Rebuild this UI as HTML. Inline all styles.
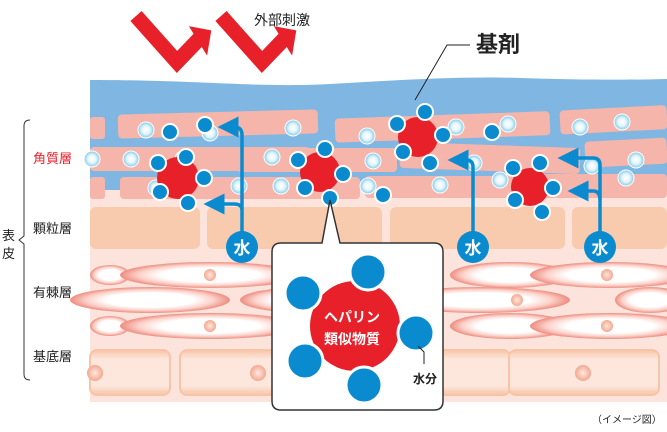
<!DOCTYPE html>
<html><head><meta charset="utf-8"><style>
html,body{margin:0;padding:0;background:#fff}
svg{display:block}
text{font-family:"Liberation Sans","Noto Sans CJK JP",sans-serif}
</style></head><body>
<svg width="667" height="432" viewBox="0 0 667 432" xmlns="http://www.w3.org/2000/svg">
<defs>
<radialGradient id="lb" cx="50%" cy="50%" r="50%"><stop offset="0" stop-color="#fff"/><stop offset="0.5" stop-color="#e6f6fc"/><stop offset="1" stop-color="#7fcbea"/></radialGradient>
<radialGradient id="el" cx="50%" cy="50%" r="50%"><stop offset="0.55" stop-color="#fff"/><stop offset="0.8" stop-color="#fbd0c8"/><stop offset="1" stop-color="#ee8c80"/></radialGradient>
<radialGradient id="nu" cx="50%" cy="50%" r="50%"><stop offset="0" stop-color="#fde8e0"/><stop offset="1" stop-color="#f4a890"/></radialGradient>
<linearGradient id="bc" x1="0" y1="0" x2="0" y2="1"><stop offset="0" stop-color="#f7c4a6"/><stop offset="0.2" stop-color="#fde6dc"/><stop offset="0.8" stop-color="#fde6dc"/><stop offset="1" stop-color="#f7c4a6"/></linearGradient>
<marker id="ah" markerWidth="6" markerHeight="6" refX="3" refY="3" orient="auto" markerUnits="strokeWidth"><path d="M0,0 L6,3 L0,6z" fill="#0a8bd0"/></marker>
</defs>
<rect x="90" y="185" width="577" height="217" fill="#fce4dc"/>
<path d="M90,80 C200,80 260,88 330,84 C400,80 460,76 520,78 C580,80 630,80 667,79 L667,190 L90,190 Z" fill="#80b6e2"/>
<g fill="#f5b5ab">
<rect x="90" y="117" width="15" height="22" rx="3"/>
<rect x="118" y="112" width="200" height="24" rx="4" transform="rotate(-1.5 218 124)"/>
<rect x="335" y="115" width="215" height="24" rx="4" transform="rotate(-2 440 127)"/>
<rect x="560" y="108" width="107" height="24" rx="4" transform="rotate(-3 610 120)"/>
<rect x="90" y="147" width="220" height="24" rx="4"/>
<rect x="237" y="148" width="160" height="24" rx="4"/>
<rect x="400" y="145" width="180" height="26" rx="4" transform="rotate(2 490 158)"/>
<rect x="585" y="140" width="82" height="26" rx="4" transform="rotate(-3 620 153)"/>
<rect x="90" y="177" width="15" height="22" rx="3"/>
<rect x="120" y="177" width="240" height="22" rx="4"/>
<rect x="365" y="176" width="150" height="22" rx="4"/>
<rect x="500" y="174" width="167" height="24" rx="4"/>
</g>
<g fill="#f9cbae">
<rect x="90" y="207" width="110" height="42" rx="6"/>
<rect x="207" y="207" width="175" height="42" rx="6"/>
<rect x="390" y="207" width="175" height="42" rx="6"/>
<rect x="572" y="207" width="95" height="42" rx="6"/>
</g>
<g fill="url(#el)">
<ellipse cx="110" cy="275" rx="20" ry="10"/><ellipse cx="210" cy="275" rx="90" ry="13"/><ellipse cx="370" cy="275" rx="60" ry="13"/><ellipse cx="510" cy="275" rx="60" ry="13"/><ellipse cx="610" cy="275" rx="80" ry="13"/>
<ellipse cx="150" cy="300" rx="80" ry="13"/><ellipse cx="310" cy="300" rx="70" ry="13"/><ellipse cx="480" cy="300" rx="90" ry="13"/><ellipse cx="650" cy="300" rx="35" ry="13"/>
<ellipse cx="110" cy="326" rx="20" ry="10"/><ellipse cx="210" cy="326" rx="90" ry="13"/><ellipse cx="370" cy="326" rx="60" ry="13"/><ellipse cx="510" cy="326" rx="60" ry="13"/><ellipse cx="610" cy="326" rx="80" ry="13"/>
</g>
<g fill="url(#nu)">
<circle cx="210" cy="275" r="6"/><circle cx="607" cy="275" r="6"/><circle cx="517" cy="300" r="6"/><circle cx="210" cy="326" r="6"/><circle cx="607" cy="326" r="6"/>
</g>
<g fill="url(#bc)" stroke="#f7c4a6" stroke-width="2">
<rect x="90" y="350" width="80" height="45" rx="7"/>
<rect x="180" y="350" width="110" height="45" rx="7"/>
<rect x="420" y="350" width="90" height="45" rx="7"/>
<rect x="509" y="350" width="150" height="45" rx="7"/>
</g>
<g fill="url(#nu)"><circle cx="95" cy="373" r="8"/><circle cx="258" cy="373" r="8"/><circle cx="583" cy="373" r="8"/></g>
<g fill="url(#lb)" stroke="#fff" stroke-width="1">
<circle cx="146" cy="130" r="8"/><circle cx="210" cy="133" r="8"/><circle cx="293" cy="128" r="8"/><circle cx="367" cy="136" r="8"/><circle cx="456" cy="127" r="8"/><circle cx="508" cy="124" r="8"/><circle cx="580" cy="127" r="8"/><circle cx="622" cy="122" r="8"/>
<circle cx="92" cy="159" r="8"/><circle cx="131" cy="159" r="8"/><circle cx="183" cy="159" r="8"/><circle cx="272" cy="157" r="8"/><circle cx="373" cy="161" r="8"/><circle cx="474" cy="163" r="8"/><circle cx="592" cy="166" r="8"/><circle cx="636" cy="160" r="8"/>
<circle cx="156" cy="188" r="8"/><circle cx="239" cy="186" r="8"/><circle cx="281" cy="186" r="8"/><circle cx="368" cy="186" r="8"/><circle cx="440" cy="185" r="8"/><circle cx="500" cy="180" r="8"/><circle cx="626" cy="178" r="8"/>
</g>
<g fill="#e8202a">
<circle cx="178" cy="178" r="21"/><circle cx="320" cy="172" r="20"/><circle cx="418" cy="137" r="20"/><circle cx="530" cy="187" r="19"/>
</g>
<g fill="#0a8bd0" stroke="#fff" stroke-width="2">
<circle cx="158" cy="163" r="8"/><circle cx="186" cy="157" r="8"/><circle cx="204" cy="178" r="8"/><circle cx="160" cy="192" r="8"/><circle cx="188" cy="203" r="8"/>
<circle cx="170" cy="132" r="8"/><circle cx="205" cy="125" r="8"/>
<circle cx="298" cy="160" r="8"/><circle cx="325" cy="149" r="8"/><circle cx="343" cy="174" r="8"/><circle cx="305" cy="188" r="8"/><circle cx="330" cy="198" r="8"/>
<circle cx="397" cy="124" r="8"/><circle cx="425" cy="112" r="8"/><circle cx="443" cy="135" r="8"/><circle cx="403" cy="152" r="8"/><circle cx="430" cy="163" r="8"/>
<circle cx="492" cy="132" r="8"/><circle cx="383" cy="195" r="8"/>
<circle cx="513" cy="168" r="8"/><circle cx="540" cy="163" r="8"/><circle cx="553" cy="188" r="8"/><circle cx="515" cy="200" r="8"/><circle cx="542" cy="212" r="8"/>
</g>
<g fill="none" stroke="#0a8bd0" stroke-width="3.5">
<path d="M242,235 L242,135 Q242,127 234,127 L228,127" marker-end="url(#ah)"/>
<path d="M242,210 Q242,204 234,204 L214,204" marker-end="url(#ah)"/>
<path d="M473,235 L473,167 Q473,160 466,160 L458,160" marker-end="url(#ah)"/>
<path d="M600,235 L600,165 Q600,158 593,158 L568,158" marker-end="url(#ah)"/>
<path d="M600,200 Q600,191 593,191 L578,191" marker-end="url(#ah)"/>
</g>
<g fill="#0a8bd0"><circle cx="242" cy="247" r="16"/><circle cx="473" cy="247" r="16"/><circle cx="600" cy="247" r="16"/></g>
<g fill="#fff" font-size="17" font-weight="bold" text-anchor="middle">
<text x="242" y="254">水</text><text x="473" y="254">水</text><text x="600" y="254">水</text>
</g>
<path d="M281,243 L322,243 L330,200 L340,243 L434,243 Q443,243 443,252 L443,401 Q443,410 434,410 L281,410 Q272,410 272,401 L272,252 Q272,243 281,243 Z" fill="#fff" stroke="#333" stroke-width="1.5"/>
<circle cx="355" cy="326" r="45" fill="#e8202a"/>
<g fill="#0a8bd0" stroke="#fff" stroke-width="3">
<circle cx="368" cy="272" r="18"/><circle cx="303" cy="293" r="18"/><circle cx="416" cy="333" r="18"/><circle cx="305" cy="361" r="18"/><circle cx="364" cy="385" r="18"/>
</g>
<g fill="#fff" font-size="14" font-weight="bold" text-anchor="middle">
<text x="352" y="322">ヘパリン</text><text x="352" y="344">類似物質</text>
</g>
<path d="M418,346 L424,352 L424,364" fill="none" stroke="#222" stroke-width="1"/>
<text x="425" y="383" font-size="12" font-weight="bold" fill="#222" text-anchor="middle">水分</text>
<g fill="none" stroke="#e8202a" stroke-width="15" stroke-linejoin="miter">
<path d="M136,16 L177,62 L200,38"/>
<path d="M221,16 L262,62 L285,38"/>
</g>
<path d="M193,29 L209,32 L206,50 Z" fill="#e8202a" stroke="#e8202a" stroke-width="4"/>
<path d="M278,29 L294,32 L291,50 Z" fill="#e8202a" stroke="#e8202a" stroke-width="4"/>
<text x="254" y="25" font-size="14" fill="#222">外部刺激</text>
<path d="M470,45 L447,45 L415,100" fill="none" stroke="#222" stroke-width="1"/>
<text x="476" y="52" font-size="22" font-weight="bold" fill="#222">基剤</text>
<path d="M30,120 Q24,120 24,126 L24,236 L19,240 L24,244 L24,374 Q24,380 30,380" fill="none" stroke="#333" stroke-width="1"/>
<g font-size="13" fill="#222">
<text x="33" y="163" fill="#e8202a">角質層</text>
<text x="33" y="233">顆粒層</text>
<text x="33" y="297">有棘層</text>
<text x="33" y="361">基底層</text>
<text x="2" y="240">表</text><text x="2" y="258">皮</text>
</g>
<text x="592" y="423" font-size="10" fill="#222">（イメージ図）</text>
</svg>
</body></html>
